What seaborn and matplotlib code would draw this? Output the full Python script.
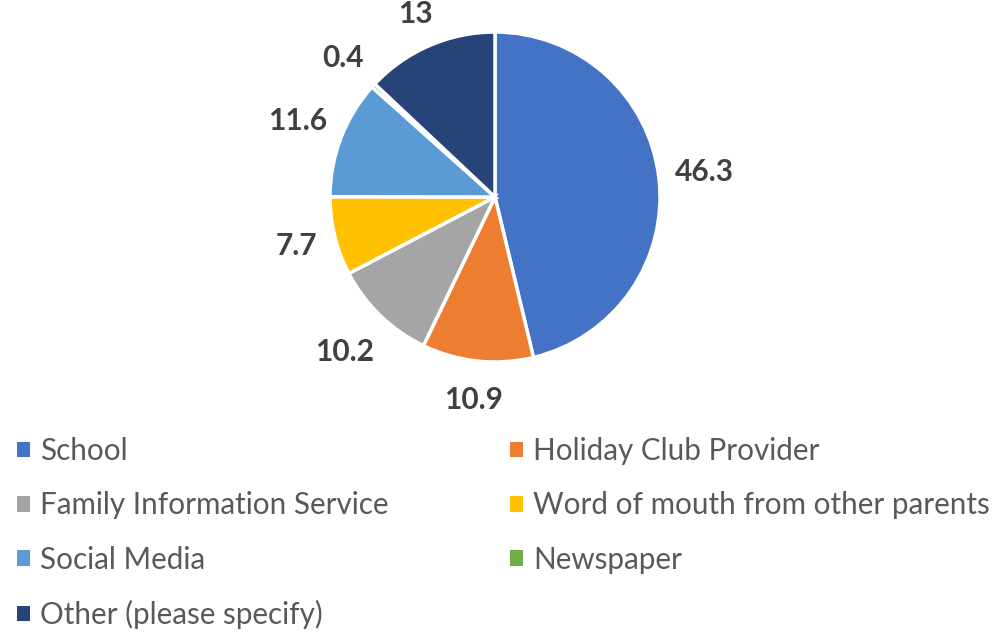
import matplotlib
matplotlib.use("Agg")
import matplotlib.pyplot as plt
import matplotlib.patches as mpatches
import numpy as np
import seaborn as sns

# data
categories = ['School', 'Holiday Club Provider', 'Family Information Service',
              'Word of mouth from other parents', 'Social Media', 'Newspaper',
              'Other (please specify)']
values = [46.3, 10.9, 10.2, 7.7, 11.6, 0.4, 13]
value_labels = ['46.3', '10.9', '10.2', '7.7', '11.6', '0.4', '13']
colors = ['#4472C4', '#ED7D31', '#A5A5A5', '#FFC000', '#5B9BD5', '#70AD47', '#264478']

# how far out each value label sits (in radii)
label_dist = [1.28, 1.24, 1.31, 1.24, 1.28, 1.25, 1.21]

sns.set_theme(style="white")
plt.rcParams['font.family'] = ['Lato', 'DejaVu Sans']

W, H = 995, 633
fig = plt.figure(figsize=(W / 100, H / 100), dpi=100)

# pie axes: centre (495,197) px, radius 165 px
R = 165
cx, cy = 495, 197
hw, hh = 300, 200
ax = fig.add_axes([(cx - hw) / W, (H - cy - hh) / H, 2 * hw / W, 2 * hh / H])

wedges, texts = ax.pie(values, colors=colors, startangle=90, counterclock=False,
                       labels=value_labels, labeldistance=1.25,
                       wedgeprops=dict(edgecolor='white', linewidth=2.5),
                       textprops=dict(fontsize=21.5, fontweight='bold', color='#404040'))
ax.set_xlim(-hw / R, hw / R)
ax.set_ylim(-hh / R, hh / R)
ax.axis('off')
for w, t, d in zip(wedges, texts, label_dist):
    ang = np.deg2rad((w.theta1 + w.theta2) / 2)
    t.set_position((d * np.cos(ang), d * np.sin(ang)))
    t.set_ha('center')
    t.set_va('center')

handles = [mpatches.Patch(facecolor=c, edgecolor='none') for c in colors]
leg_kw = dict(frameon=False, fontsize=21.3, labelcolor='#595959', loc='upper left',
              handlelength=0.44, handleheight=0.44, handletextpad=0.33,
              labelspacing=0.89, borderpad=0, borderaxespad=0)
left = [0, 2, 4, 6]
right = [1, 3, 5]
fig.legend([handles[i] for i in left], [categories[i] for i in left],
           bbox_to_anchor=(17 / W, (H - 437) / H), **leg_kw)
fig.legend([handles[i] for i in right], [categories[i] for i in right],
           bbox_to_anchor=(510 / W, (H - 437) / H), **leg_kw)

fig.savefig('out.png', dpi=100, facecolor='white')
